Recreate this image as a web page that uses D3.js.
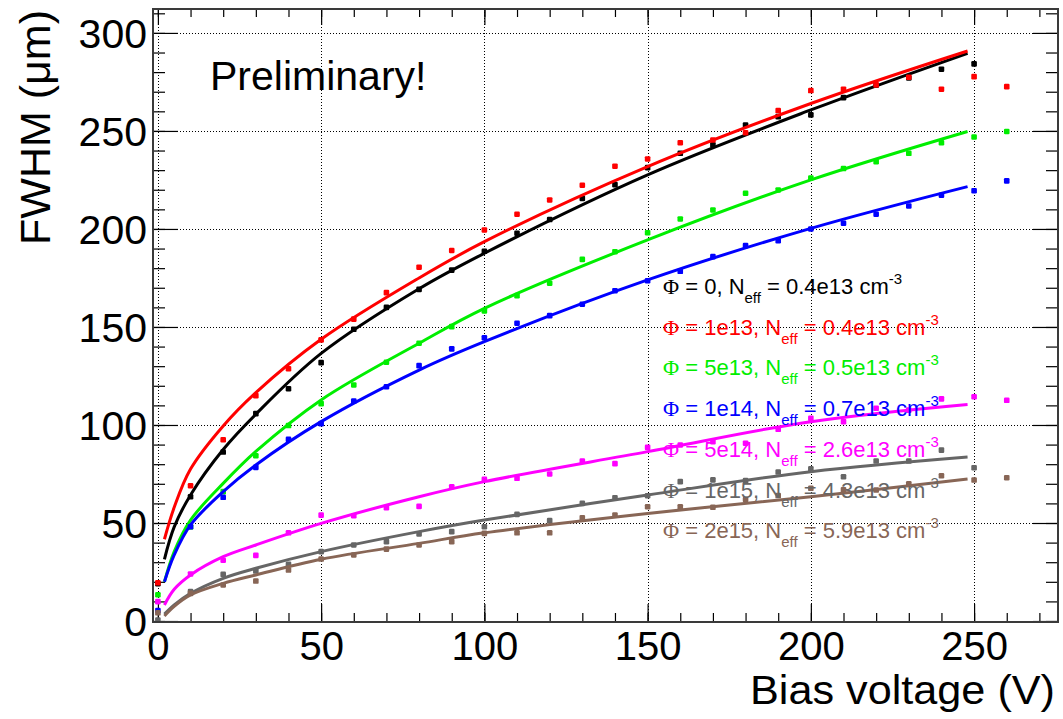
<!DOCTYPE html>
<html><head><meta charset="utf-8">
<script src="https://cdn.jsdelivr.net/npm/d3@7"></script>
<style>
html,body{margin:0;padding:0;background:#fff;}
svg{display:block;font-family:"Liberation Sans",Arial,Helvetica,sans-serif;}
</style></head>
<body>
<svg id="c" width="1063" height="719"></svg>
<script>
// ---------------- data ----------------
const voltages = [0,10,20,30,40,50,60,70,80,90,100,110,120,130,140,150,160,170,180,190,200,210,220,230,240,250,260];
const seriesNames = ["0","1e13","5e13","1e14","5e14","1e15","2e15"];
const neffLabels = ["0.4e13","0.4e13","0.5e13","0.7e13","2.6e13","4.3e13","5.9e13"];
const seriesColors = ["#000000","#ff0000","#00ee00","#0000ff","#ff00ff","#666666","#886656"];

const fwhmPhi0   = [19,63.4,86.2,105.8,118.5,131.8,148.8,160,169.2,179,188.6,197.8,204.8,215.6,222.6,231.3,238.6,242.9,253,257.3,258.2,267,273.3,277,281.5,284.2,null];
const fwhmPhi1e13= [19.5,69,92.5,115,128.7,143.4,154,167.5,180.5,189,199.5,207.5,214.8,222.3,232,235.7,244,245.4,249.1,260.4,270.6,271.3,273.5,277.4,271.3,277.7,272.6];
const fwhmPhi5e13= [13.4,48,66,84.3,99.7,110.9,120.4,132,141.7,150.2,158.2,166,172.3,184.5,188.4,198.1,205.1,209.7,218.2,219.9,226,230.8,234.3,238.6,244,246.9,249.7];
const fwhmPhi1e14= [5.3,48.1,63.1,78.4,92.7,100.7,112.2,119.5,130.3,138.8,144.5,151.9,155.8,161.6,168.5,173.6,178.4,185.9,191.5,194,200,202.9,207.5,211.7,217.2,219.5,224.5];
const fwhmPhi5e14= [9.9,24,31,33.5,45,54,53.7,57.8,58.5,68.5,72.3,72.8,75,81.6,80.3,88.6,89.8,91.5,90.7,97.8,103.4,101.7,108.5,107.6,113.3,114.4,112.6];
const fwhmPhi1e15= [0.5,15,23.8,25.5,28.9,35.4,38.8,40.5,44.4,45.6,48.1,54.4,51.2,60,62.9,63.9,71.1,72,71.6,76,77.6,73.6,81.6,81.6,87.2,78.2,null];
const fwhmPhi2e15= [4.2,14.1,18.4,20.4,26,31.6,33.7,36.7,38.8,40.5,44.7,45,45,52.7,54,58.3,58.3,58,62,64,67.7,67,66.8,70,74.1,71.9,73.1];

// fit curves
const fitVoltages = [2,5,10,20,30,50,80,100,150,200,248];
const fitPhi0    = [31.5,48,64.3,87.5,105.5,136.5,169.5,187.6,227.6,260.7,289.6];
const fitPhi1e13 = [41.7,58,77.5,99.5,116.5,143.7,175,193.5,231.8,264,290.8];
const fitPhi5e13 = [20,35.4,51.5,70.2,86.5,112.8,141.7,159.5,194.4,225,249.7];
const fitPhi1e14 = [20,33.7,49,66,79.6,101.7,128,142.5,174,200.3,221.6];
const fitPhi5e14 = [8.2,16.2,23.5,32.8,38.8,49.8,63.4,71.1,86.4,101.7,110.5];
const fitPhi1e15 = [3.5,8.2,14.1,21.8,26.9,35.4,45.6,51.5,64.3,76.2,83.7];
const fitPhi2e15 = [2.6,7.5,13.3,19.2,23.5,31.5,39.6,45,54.9,63.4,72.4];

const xTicks = [0,50,100,150,200,250];
const yTicks = [0,50,100,150,200,250,300];

const pointsAll = [fwhmPhi0,fwhmPhi1e13,fwhmPhi5e13,fwhmPhi1e14,fwhmPhi5e14,fwhmPhi1e15,fwhmPhi2e15];
const fitsAll = [fitPhi0,fitPhi1e13,fitPhi5e13,fitPhi1e14,fitPhi5e14,fitPhi1e15,fitPhi2e15];

// ---------------- layout ----------------
const L=153, R=1058, T=9, B=622;
const svg = d3.select("#c");
const x = d3.scaleLinear().domain([-1.5,275.7]).range([L,R]);
const y = d3.scaleLinear().domain([-0.5,312.2]).range([B,T]);

// grid
const grid = svg.append("g").attr("stroke","#000").attr("stroke-width",1).attr("stroke-dasharray","1,2");
xTicks.forEach(v=>grid.append("line").attr("x1",Math.round(x(v))+0.5).attr("x2",Math.round(x(v))+0.5).attr("y1",T).attr("y2",B));
yTicks.filter(v=>v>0).forEach(v=>grid.append("line").attr("y1",Math.round(y(v))+0.5).attr("y2",Math.round(y(v))+0.5).attr("x1",L).attr("x2",R));

// axes (ticks)
const minorX = d3.range(0,276,10);
const minorY = d3.range(0,311,10);
function axisTicks(axisGen, tr){ const g=svg.append("g").attr("transform",tr).call(axisGen); g.select(".domain").remove(); g.selectAll("line").attr("stroke","#000").attr("stroke-width",1.2); return g;}
axisTicks(d3.axisBottom(x).tickValues(minorX).tickSize(-9).tickFormat(""),`translate(0,${B})`);
axisTicks(d3.axisBottom(x).tickValues(xTicks).tickSize(-18).tickFormat(""),`translate(0,${B})`);
axisTicks(d3.axisTop(x).tickValues(minorX).tickSize(-8).tickFormat(""),`translate(0,${T})`);
axisTicks(d3.axisTop(x).tickValues(xTicks).tickSize(-16).tickFormat(""),`translate(0,${T})`);
axisTicks(d3.axisLeft(y).tickValues(minorY).tickSize(-12).tickFormat(""),`translate(${L},0)`);
axisTicks(d3.axisLeft(y).tickValues(yTicks).tickSize(-25).tickFormat(""),`translate(${L},0)`);
axisTicks(d3.axisRight(y).tickValues(minorY).tickSize(-12).tickFormat(""),`translate(${R},0)`);
axisTicks(d3.axisRight(y).tickValues(yTicks).tickSize(-25).tickFormat(""),`translate(${R},0)`);

// tick labels
const labX = svg.append("g").attr("transform",`translate(0,${B})`).call(d3.axisBottom(x).tickValues(xTicks).tickSize(0).tickPadding(0).tickFormat(d3.format("d")));
labX.select(".domain").remove();
labX.selectAll("text").attr("font-size",40).attr("font-family","Liberation Sans, Arial, sans-serif").attr("fill","#000").attr("dy",null).attr("y",38);
const labY = svg.append("g").attr("transform",`translate(${L},0)`).call(d3.axisLeft(y).tickValues(yTicks).tickSize(0).tickPadding(6).tickFormat(d3.format("d")));
labY.select(".domain").remove();
labY.selectAll("text").attr("font-size",41).attr("font-family","Liberation Sans, Arial, sans-serif").attr("fill","#000").attr("dy","0.36em");

// axis titles
svg.append("text").attr("x",1055).attr("y",704).attr("text-anchor","end").attr("font-size",40)
  .attr("textLength",305).attr("lengthAdjust","spacingAndGlyphs").text("Bias voltage (V)");
svg.append("text").attr("transform","translate(50,10) rotate(-90)").attr("text-anchor","end").attr("font-size",43).text("FWHM (μm)");
svg.append("text").attr("x",210).attr("y",90).attr("font-size",41).text("Preliminary!");

// clip
svg.append("clipPath").attr("id","clip").append("rect").attr("x",L).attr("y",T).attr("width",R-L).attr("height",B-T+3);

const line = d3.line().x(d=>x(d[0])).y(d=>y(d[1])).curve(d3.curveCatmullRom.alpha(0.5));
const plot = svg.append("g").attr("clip-path","url(#clip)");
pointsAll.forEach((arr,i)=>{
  const col = seriesColors[i];
  const pts = voltages.map((v,j)=>[v,arr[j]]).filter(d=>d[1]!=null);
  plot.append("g").selectAll("rect").data(pts).join("rect")
    .attr("x",d=>x(d[0])-2.8).attr("y",d=>y(d[1])-2.8).attr("width",5.6).attr("height",5.6).attr("rx",1.2)
    .attr("fill",col);
  const fit = fitVoltages.map((v,j)=>[v,fitsAll[i][j]]);
  plot.append("path").datum(fit).attr("d",line).attr("fill","none").attr("stroke",col).attr("stroke-width",3);
});

// frame
svg.append("rect").attr("x",L).attr("y",T).attr("width",R-L).attr("height",B-T).attr("fill","none").attr("stroke","#3a3a3a").attr("stroke-width",2);

// legend
const leg = svg.append("g");
seriesNames.forEach((n,i)=>{
  const by = 294 + i*40.7;
  const t = leg.append("text").attr("x",663).attr("y",by).attr("font-size",22).attr("fill",seriesColors[i]);
  t.append("tspan").attr("font-family","Liberation Serif, DejaVu Serif, serif").text("Φ");
  t.append("tspan").text(` = ${n}, N`);
  t.append("tspan").attr("font-size",15).attr("dy",9).text("eff");
  t.append("tspan").attr("dy",-9).text(` = ${neffLabels[i]} cm`);
  t.append("tspan").attr("font-size",15).attr("dy",-10).text("-3");
});
</script>
</body></html>
